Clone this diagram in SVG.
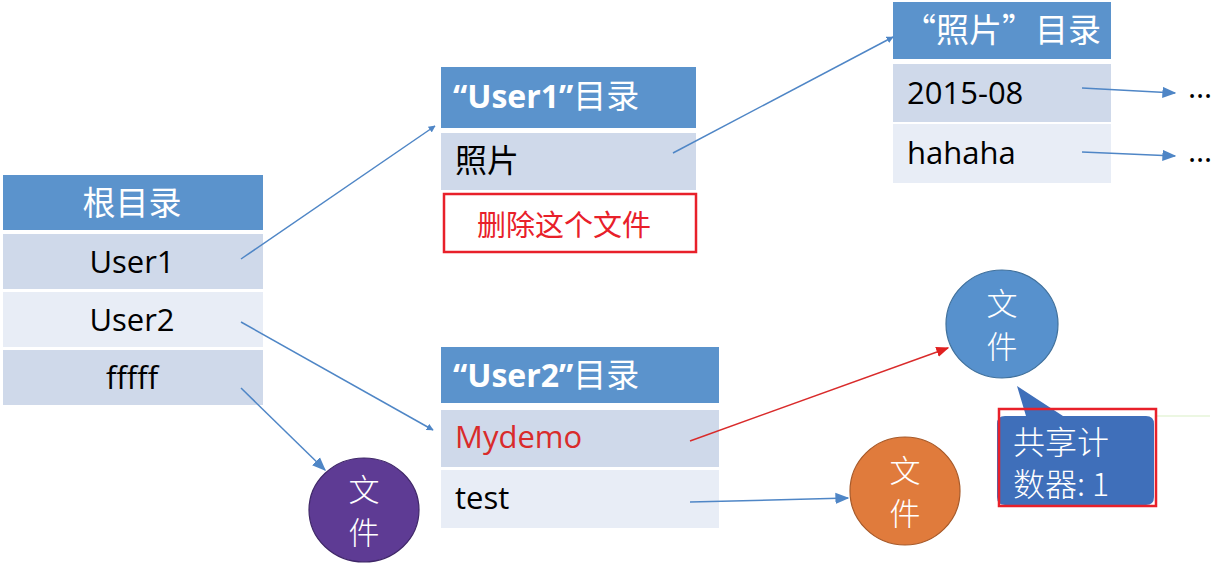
<svg xmlns="http://www.w3.org/2000/svg" width="1217" height="567" viewBox="0 0 1217 567">
<defs>
<style>
.hd{fill:#5b93cc}
.r1{fill:#cfd9ea}
.r2{fill:#e8edf6}
.ht{fill:#fff;font-family:"Open Sans","Noto Sans CJK SC",sans-serif;font-size:32px;font-weight:bold}
.hc{fill:#fff;font-family:"Noto Sans CJK SC",sans-serif;font-size:33px}
.t{fill:#000;font-family:"Open Sans","Noto Sans CJK SC",sans-serif;font-size:31px}
.tc{fill:#000;font-family:"Noto Sans CJK SC",sans-serif;font-size:32px}
.ct{fill:#fff;font-family:"Noto Sans CJK SC",sans-serif;font-size:31px;font-weight:300}
.cb{fill:#fff;font-family:"Noto Sans CJK SC",sans-serif;font-size:32px;font-weight:300}
.ln{stroke:#4f86c6;stroke-width:1.5;fill:none}
</style>
<marker id="ab" viewBox="0 0 10 10" refX="9" refY="5" markerWidth="7" markerHeight="7" orient="auto" markerUnits="userSpaceOnUse"><path d="M0,0 L10,5 L0,10 z" fill="#4f86c6"/></marker>
<marker id="ab2" viewBox="0 0 10 10" refX="9" refY="5" markerWidth="14" markerHeight="14" orient="auto" markerUnits="userSpaceOnUse"><path d="M0,1 L10,5 L0,9 z" fill="#4f86c6"/></marker>
<marker id="ar" viewBox="0 0 10 10" refX="9" refY="5" markerWidth="13" markerHeight="13" orient="auto" markerUnits="userSpaceOnUse"><path d="M0,1 L10,5 L0,9 z" fill="#e02020"/></marker>
</defs>
<rect width="1217" height="567" fill="#fff"/>

<g id="root">
<rect class="hd" x="3" y="175" width="260" height="55"/>
<text class="hc" x="132" y="215" text-anchor="middle">根目录</text>
<rect class="r1" x="3" y="234" width="260" height="55"/>
<text class="t" x="132" y="273" text-anchor="middle">User1</text>
<rect class="r2" x="3" y="292" width="260" height="55"/>
<text class="t" x="132" y="331" text-anchor="middle">User2</text>
<rect class="r1" x="3" y="350" width="260" height="55"/>
<text class="t" x="132" y="389" text-anchor="middle">fffff</text>
</g>

<g id="user1dir">
<rect class="hd" x="441" y="67" width="255" height="61"/>
<text class="ht" x="453" y="108">“User1”<tspan class="hc" style="font-weight:normal">目录</tspan></text>
<rect class="r1" x="441" y="133" width="255" height="57"/>
<text class="tc" x="455" y="172">照片</text>
</g>

<g id="delete-note">
<rect x="444" y="194" width="252" height="58" fill="#fff" stroke="#e8202a" stroke-width="2.5"/>
<text x="564" y="236" text-anchor="middle" fill="#e8202a" font-family="Noto Sans CJK SC, sans-serif" font-size="29">删除这个文件</text>
</g>

<g id="photodir">
<rect class="hd" x="893" y="2" width="218" height="57"/>
<text class="hc" x="903" y="42">“照片”目录</text>
<rect class="r1" x="893" y="64" width="218" height="58"/>
<text class="t" x="907" y="104">2015-08</text>
<rect class="r2" x="893" y="124" width="218" height="59"/>
<text class="t" x="907" y="164">hahaha</text>
<text class="t" x="1188" y="98">…</text>
<text class="t" x="1188" y="162">…</text>
</g>

<g id="user2dir">
<rect class="hd" x="441" y="347" width="278" height="56"/>
<text class="ht" x="453" y="387">“User2”<tspan class="hc" style="font-weight:normal">目录</tspan></text>
<rect class="r1" x="441" y="410" width="278" height="57"/>
<text class="t" x="455" y="448" style="fill:#d92b2b">Mydemo</text>
<rect class="r2" x="441" y="470" width="278" height="58"/>
<text class="t" x="455" y="509">test</text>
</g>

<g id="file-blue">
<ellipse cx="1002" cy="324" rx="56" ry="54" fill="#5791cd" stroke="#41719c" stroke-width="1.2"/>
<text class="ct" x="1002" y="315" text-anchor="middle">文</text>
<text class="ct" x="1002" y="358" text-anchor="middle">件</text>
</g>

<g id="callout">
<path d="M1017,386 L1063,416 L1146,416 Q1154,416 1154,424 L1154,497 Q1154,505 1146,505 L1005,505 Q997,505 997,497 L997,424 Q997,416 1005,416 L1026,416 Z" fill="#3f6fba"/>
<line x1="1156" y1="416" x2="1210" y2="416" stroke="#e6f4d8" stroke-width="1.5"/>
<rect x="999" y="409" width="157" height="97" fill="none" stroke="#e8202a" stroke-width="2.5"/>
<text class="cb" x="1013" y="454">共享计</text>
<text class="cb" x="1013" y="496">数器: 1</text>
</g>

<g id="file-orange">
<ellipse cx="905" cy="491" rx="55" ry="54" fill="#e07b3c" stroke="#a75a2a" stroke-width="1.2"/>
<text class="ct" x="905" y="482" text-anchor="middle">文</text>
<text class="ct" x="905" y="525" text-anchor="middle">件</text>
</g>

<g id="file-purple">
<ellipse cx="364" cy="510" rx="55" ry="52" fill="#5e3b94" stroke="#3f2768" stroke-width="1.2"/>
<text class="ct" x="364" y="501" text-anchor="middle">文</text>
<text class="ct" x="364" y="544" text-anchor="middle">件</text>
</g>

<g id="connectors">
<line class="ln" x1="241" y1="259" x2="435" y2="126" marker-end="url(#ab)"/>
<line class="ln" x1="241" y1="322" x2="433" y2="430" marker-end="url(#ab)"/>
<line class="ln" x1="241" y1="388" x2="325" y2="470" marker-end="url(#ab2)"/>
<line class="ln" x1="673" y1="153" x2="893" y2="37" marker-end="url(#ab)"/>
<line class="ln" x1="1082" y1="88" x2="1175" y2="93" marker-end="url(#ab2)"/>
<line class="ln" x1="1082" y1="152" x2="1175" y2="156" marker-end="url(#ab2)"/>
<line x1="690" y1="441" x2="948" y2="348" stroke="#d92b2b" stroke-width="1.5" marker-end="url(#ar)"/>
<line class="ln" x1="690" y1="502" x2="848" y2="498" marker-end="url(#ab2)"/>
</g>
</svg>
